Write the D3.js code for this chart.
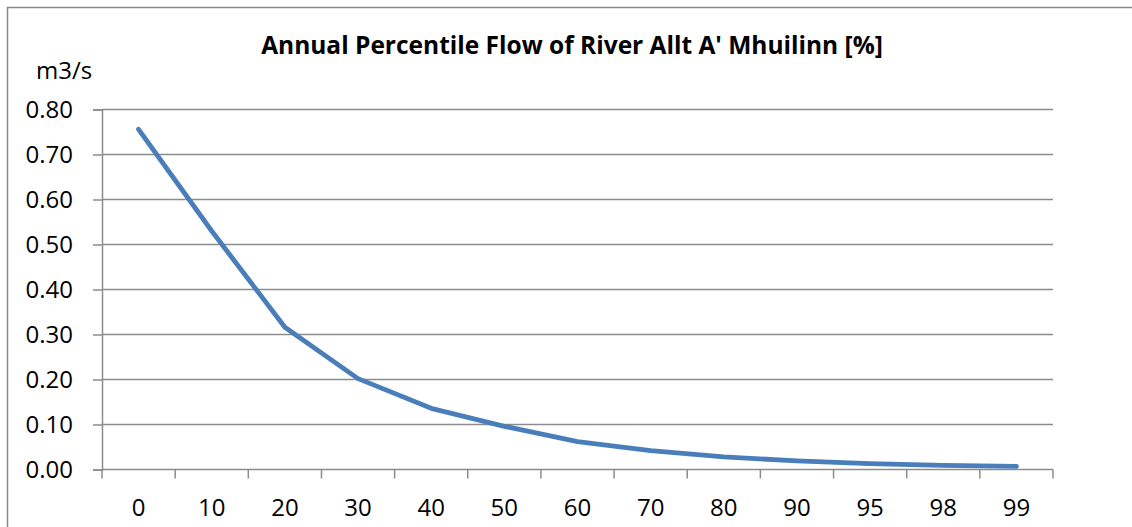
<!DOCTYPE html>
<html>
<head>
<meta charset="utf-8">
<script src="https://cdn.jsdelivr.net/npm/d3@7"></script>
<style>
  html, body { margin: 0; padding: 0; background: #fff; }
  svg { display: block; }
  text { font-family: "Open Sans", Lato, sans-serif; fill: #000; }
</style>
</head>
<body>
<svg id="chart" width="1132" height="527"></svg>
<script>
// Percentile (exceedance %) categories and flow values in m3/s
const percentiles = ["0", "10", "20", "30", "40", "50", "60", "70", "80", "90", "95", "98", "99"];
const flows = [0.756, 0.53, 0.316, 0.202, 0.136, 0.096, 0.062, 0.042, 0.028, 0.019, 0.013, 0.009, 0.007];
const yTicks = [0, 0.1, 0.2, 0.3, 0.4, 0.5, 0.6, 0.7, 0.8];
const title = "Annual Percentile Flow of River Allt A' Mhuilinn [%]";
const unitLabel = "m3/s";

const svg = d3.select("#chart");
const plot = { left: 102, right: 1053, top: 109.5, bottom: 469.5 };
const GRID = "#8c8c8c";

// chart frame
svg.append("rect")
  .attr("x", 7.5).attr("y", 7.5)
  .attr("width", 1140).attr("height", 540)
  .attr("fill", "none").attr("stroke", "#888").attr("stroke-width", 1.5);

const x = d3.scaleBand().domain(percentiles).range([plot.left, plot.right]).padding(0);
const y = d3.scaleLinear().domain([0, 0.8]).range([plot.bottom, plot.top]);

// horizontal gridlines
svg.append("g")
  .selectAll("line")
  .data(yTicks.filter(d => d > 0))
  .join("line")
  .attr("x1", plot.left).attr("x2", plot.right)
  .attr("y1", d => y(d)).attr("y2", d => y(d))
  .attr("stroke", GRID).attr("stroke-width", 1.5);

// y axis
const yAxis = svg.append("g")
  .attr("transform", `translate(${plot.left},0)`)
  .call(d3.axisLeft(y).tickValues(yTicks).tickFormat(d3.format(".2f")).tickSize(9).tickPadding(20));
yAxis.select(".domain").attr("stroke", GRID).attr("stroke-width", 1.5);
yAxis.selectAll(".tick line").attr("stroke", GRID).attr("stroke-width", 1.5);
yAxis.selectAll(".tick text").attr("font-size", 24).attr("fill", "#000");

// x axis: ticks sit on category boundaries, labels at category centres
const xAxisG = svg.append("g").attr("transform", `translate(0,${plot.bottom})`);
xAxisG.append("line")
  .attr("x1", plot.left).attr("x2", plot.right)
  .attr("stroke", GRID).attr("stroke-width", 1.5);
const boundaries = percentiles.map(p => x(p)).concat([x(percentiles[percentiles.length - 1]) + x.bandwidth()]);
xAxisG.selectAll("line.tick")
  .data(boundaries)
  .join("line")
  .attr("class", "tick")
  .attr("x1", d => d).attr("x2", d => d)
  .attr("y1", 0).attr("y2", 9)
  .attr("stroke", GRID).attr("stroke-width", 1.5);
xAxisG.selectAll("text")
  .data(percentiles)
  .join("text")
  .attr("x", d => x(d) + x.bandwidth() / 2)
  .attr("y", 46)
  .attr("text-anchor", "middle")
  .attr("font-size", 24)
  .text(d => d);

// flow duration line
const line = d3.line()
  .x((d, i) => x(percentiles[i]) + x.bandwidth() / 2)
  .y(d => y(d));
svg.append("path")
  .datum(flows)
  .attr("d", line)
  .attr("fill", "none")
  .attr("stroke", "#4a7ebb")
  .attr("stroke-width", 4.8)
  .attr("stroke-linecap", "round")
  .attr("stroke-linejoin", "round");

// title and unit label
svg.append("text")
  .attr("x", 572).attr("y", 54)
  .attr("text-anchor", "middle")
  .attr("font-weight", "bold")
  .attr("font-size", 24.5)
  .text(title);
svg.append("text")
  .attr("x", 36).attr("y", 79)
  .attr("font-size", 24)
  .text(unitLabel);
</script>
</body>
</html>
